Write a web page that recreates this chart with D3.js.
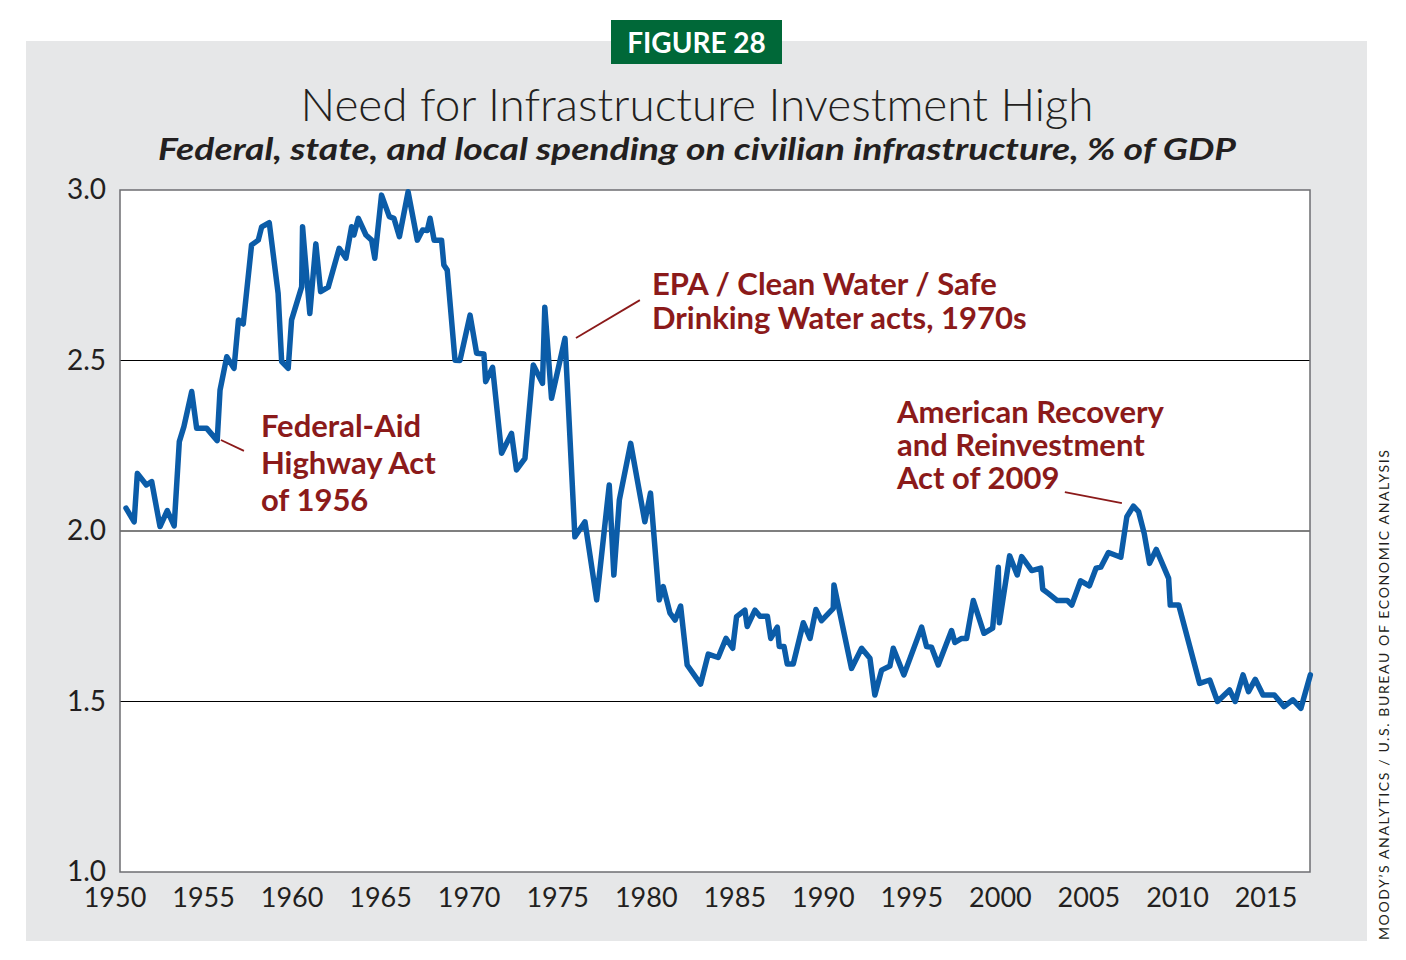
<!DOCTYPE html>
<html>
<head>
<meta charset="utf-8">
<script src="https://cdn.jsdelivr.net/npm/d3@7"></script>
<style>
  body { margin: 0; background: #ffffff; }
  svg { display: block; font-family: "Lato", "Open Sans", sans-serif; }
</style>
</head>
<body>
<div id="chart"></div>
<script>
// readings, % of GDP
const years = [
  1950.65, 1951.11, 1951.29, 1951.80, 1952.10, 1952.57, 1952.98, 1953.37, 1953.66, 1953.92,
  1954.36, 1954.64, 1955.21, 1955.80, 1955.96, 1956.34, 1956.75, 1957.00, 1957.27, 1957.74,
  1958.12, 1958.31, 1958.74, 1959.24, 1959.44, 1959.81, 1960.00, 1960.57, 1960.62, 1961.03,
  1961.37, 1961.64, 1962.07, 1962.69, 1963.07, 1963.39, 1963.52, 1963.77, 1964.20, 1964.52,
  1964.70, 1965.08, 1965.52, 1965.78, 1966.09, 1966.58, 1967.10, 1967.40, 1967.66, 1967.82,
  1968.05, 1968.47, 1968.60, 1968.79, 1969.23, 1969.51, 1970.08, 1970.45, 1970.86, 1970.96,
  1971.35, 1971.86, 1972.42, 1972.70, 1973.18, 1973.65, 1974.17, 1974.30, 1974.68, 1975.44,
  1976.00, 1976.57, 1977.23, 1977.94, 1978.20, 1978.51, 1979.15, 1979.95, 1980.27, 1980.76,
  1980.99, 1981.37, 1981.66, 1981.97, 1982.34, 1983.10, 1983.53, 1984.09, 1984.53, 1984.91,
  1985.13, 1985.60, 1985.73, 1986.17, 1986.45, 1986.87, 1987.06, 1987.43, 1987.54, 1987.81,
  1987.99, 1988.33, 1988.90, 1989.28, 1989.61, 1989.93, 1990.59, 1990.63, 1991.62, 1992.19,
  1992.66, 1992.94, 1993.32, 1993.79, 1993.98, 1994.58, 1995.58, 1995.86, 1996.14, 1996.52,
  1997.27, 1997.46, 1997.84, 1998.12, 1998.50, 1999.10, 1999.59, 1999.91, 1999.97, 2000.55,
  2000.98, 2001.23, 2001.80, 2002.31, 2002.42, 2002.73, 2003.24, 2003.81, 2004.06, 2004.56,
  2005.05, 2005.43, 2005.70, 2006.13, 2006.83, 2007.17, 2007.54, 2007.83, 2008.15, 2008.45,
  2008.83, 2009.53, 2009.62, 2010.10, 2011.28, 2011.85, 2012.29, 2012.97, 2013.29, 2013.73,
  2014.04, 2014.42, 2014.86, 2015.50, 2016.05, 2016.55, 2017.00, 2017.53
];
const spending = [
  2.067, 2.027, 2.169, 2.135, 2.145, 2.013, 2.06, 2.015, 2.262, 2.306,
  2.409, 2.301, 2.301, 2.265, 2.413, 2.511, 2.477, 2.619, 2.607, 2.839,
  2.853, 2.892, 2.904, 2.697, 2.497, 2.477, 2.619, 2.716, 2.892, 2.638,
  2.842, 2.702, 2.715, 2.829, 2.8, 2.892, 2.868, 2.917, 2.868, 2.853,
  2.8, 2.985, 2.922, 2.917, 2.863, 2.995, 2.853, 2.883, 2.881, 2.917,
  2.853, 2.853, 2.78, 2.765, 2.501, 2.5, 2.633, 2.521, 2.519, 2.438,
  2.48, 2.228, 2.286, 2.179, 2.213, 2.487, 2.433, 2.656, 2.389, 2.565,
  1.983, 2.027, 1.798, 2.135, 1.871, 2.091, 2.257, 2.027, 2.111, 1.798,
  1.837, 1.759, 1.739, 1.78, 1.607, 1.551, 1.639, 1.629, 1.685, 1.656,
  1.749, 1.768, 1.72, 1.768, 1.75, 1.75, 1.685, 1.718, 1.661, 1.661,
  1.61, 1.61, 1.731, 1.685, 1.77, 1.737, 1.773, 1.842, 1.597, 1.656,
  1.627, 1.519, 1.592, 1.604, 1.656, 1.578, 1.718, 1.661, 1.659, 1.607,
  1.708, 1.673, 1.685, 1.685, 1.796, 1.7, 1.715, 1.894, 1.731, 1.927,
  1.871, 1.925, 1.884, 1.891, 1.829, 1.817, 1.796, 1.796, 1.783, 1.854,
  1.839, 1.891, 1.894, 1.937, 1.923, 2.042, 2.073, 2.057, 1.993, 1.905,
  1.946, 1.861, 1.783, 1.783, 1.553, 1.563, 1.5, 1.534, 1.5, 1.578,
  1.529, 1.565, 1.519, 1.519, 1.485, 1.505, 1.48, 1.578
];
const xTicks = [1950, 1955, 1960, 1965, 1970, 1975, 1980, 1985, 1990, 1995, 2000, 2005, 2010, 2015];
const yTicks = [1.0, 1.5, 2.0, 2.5, 3.0];

// annotation text, anchored in data units
const notes = [
  { lines: ["Federal-Aid", "Highway Act", "of 1956"], year: 1958.27, value: 2.276, step: 37,
    from: [1956.01, 2.267], to: [1957.31, 2.235] },
  { lines: ["EPA / Clean Water / Safe", "Drinking Water acts, 1970s"], year: 1980.35, value: 2.692, step: 34,
    from: [1976.06, 2.566], to: [1979.67, 2.677] },
  { lines: ["American Recovery", "and Reinvestment", "Act of 2009"], year: 1994.19, value: 2.317, step: 33,
    from: [2003.67, 2.114], to: [2006.89, 2.082] }
];

const W = 1406, H = 960;
const plot = { left: 120, right: 1310, top: 190, bottom: 872 };

const svg = d3.select("#chart").append("svg")
  .attr("width", W)
  .attr("height", H);

// gray panel
svg.append("rect")
  .attr("x", 26).attr("y", 41)
  .attr("width", 1341).attr("height", 900)
  .attr("fill", "#e6e7e8");

// figure tag
svg.append("rect")
  .attr("x", 611).attr("y", 20)
  .attr("width", 171).attr("height", 44)
  .attr("fill", "#006838");
svg.append("text")
  .attr("x", 696.5).attr("y", 53)
  .attr("text-anchor", "middle")
  .attr("font-size", "28px")
  .attr("font-weight", "bold")
  .attr("fill", "#ffffff")
  .text("FIGURE 28");

// titles
svg.append("text")
  .attr("x", 697).attr("y", 121)
  .attr("text-anchor", "middle")
  .attr("font-size", "45px")
  .attr("font-weight", 300)
  .attr("fill", "#231f20")
  .attr("textLength", 793)
  .attr("lengthAdjust", "spacingAndGlyphs")
  .text("Need for Infrastructure Investment High");

svg.append("text")
  .attr("x", 697).attr("y", 160)
  .attr("text-anchor", "middle")
  .attr("font-size", "30px")
  .attr("font-weight", "bold")
  .attr("font-style", "italic")
  .attr("fill", "#231f20")
  .attr("textLength", 1078)
  .attr("lengthAdjust", "spacingAndGlyphs")
  .text("Federal, state, and local spending on civilian infrastructure, % of GDP");

// scales
const x = d3.scaleLinear()
  .domain([1950, 2015])
  .range([114.5, 1265.5]);

const y = d3.scaleLinear()
  .domain([1.0, 3.0])
  .range([plot.bottom, plot.top]);

// plot background
svg.append("rect")
  .attr("x", plot.left).attr("y", plot.top)
  .attr("width", plot.right - plot.left)
  .attr("height", plot.bottom - plot.top)
  .attr("fill", "#ffffff");

// gridlines
svg.append("g")
  .selectAll("line")
  .data(yTicks.filter(d => d > 1.0 && d < 3.0))
  .join("line")
  .attr("x1", plot.left).attr("x2", plot.right)
  .attr("y1", d => y(d)).attr("y2", d => y(d))
  .attr("stroke", "#000000")
  .attr("stroke-width", 1.2);

// frame
svg.append("rect")
  .attr("x", plot.left).attr("y", plot.top)
  .attr("width", plot.right - plot.left)
  .attr("height", plot.bottom - plot.top)
  .attr("fill", "none")
  .attr("stroke", "#6d6e71")
  .attr("stroke-width", 1.5);

// y axis labels
const yAxis = svg.append("g")
  .attr("transform", `translate(${plot.left},0)`)
  .call(d3.axisLeft(y).tickValues(yTicks).tickFormat(d3.format(".1f")).tickSize(0).tickPadding(14));
yAxis.select(".domain").remove();
yAxis.selectAll("text")
  .attr("font-family", "Lato, sans-serif")
  .attr("font-size", "28px")
  .attr("fill", "#231f20");

// x axis labels
const xAxis = svg.append("g")
  .attr("transform", `translate(0,${plot.bottom})`)
  .call(d3.axisBottom(x).tickValues(xTicks).tickFormat(d3.format("d")).tickSize(0).tickPadding(16));
xAxis.select(".domain").remove();
xAxis.selectAll("text")
  .attr("font-family", "Lato, sans-serif")
  .attr("font-size", "27px")
  .attr("fill", "#231f20");

// series line
const series = years.map((yr, i) => ({ year: yr, value: spending[i] }));
const line = d3.line()
  .x(d => x(d.year))
  .y(d => y(d.value));

svg.append("path")
  .datum(series)
  .attr("d", line)
  .attr("fill", "none")
  .attr("stroke", "#0b5ca8")
  .attr("stroke-width", 5.5)
  .attr("stroke-linejoin", "round")
  .attr("stroke-linecap", "round");

// annotations
notes.forEach(n => {
  svg.append("line")
    .attr("x1", x(n.from[0])).attr("y1", y(n.from[1]))
    .attr("x2", x(n.to[0])).attr("y2", y(n.to[1]))
    .attr("stroke", "#8b1a1a")
    .attr("stroke-width", 1.8);

  const t = svg.append("text")
    .attr("x", x(n.year))
    .attr("y", y(n.value))
    .attr("font-size", "31px")
    .attr("font-weight", "bold")
    .attr("fill", "#8b1a1a");
  n.lines.forEach((s, i) => {
    t.append("tspan")
      .attr("x", x(n.year))
      .attr("dy", i === 0 ? 0 : n.step)
      .text(s);
  });
});

// source credit
svg.append("text")
  .attr("transform", "translate(1389,940) rotate(-90)")
  .attr("font-size", "14px")
  .attr("fill", "#231f20")
  .attr("textLength", 490)
  .attr("lengthAdjust", "spacing")
  .text("MOODY\u2019S ANALYTICS / U.S. BUREAU OF ECONOMIC ANALYSIS");
</script>
</body>
</html>
